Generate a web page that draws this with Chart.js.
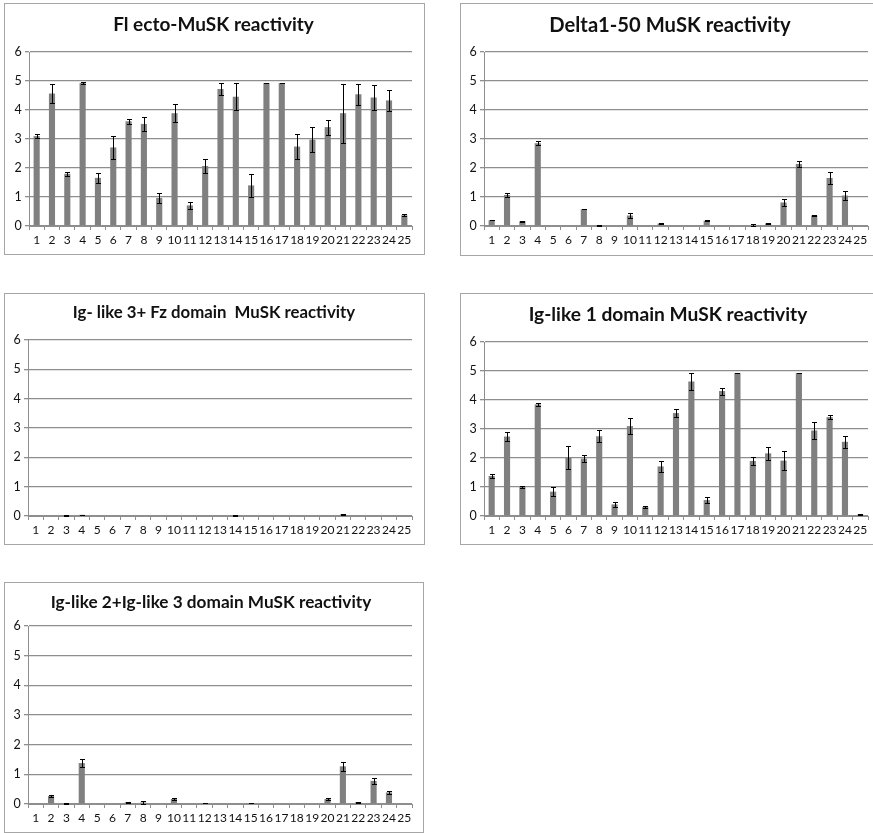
<!DOCTYPE html>
<html>
<head>
<meta charset="utf-8">
<script src="https://cdn.jsdelivr.net/npm/chart.js@4"></script>
<style>
  body { margin: 0; background: #fff; width: 873px; height: 833px; overflow: hidden; position: relative; }
  .panel { position: absolute; border: 1px solid #a6a6a6; box-sizing: border-box; background: #fff; }
  .panel canvas { position: absolute; left: 0; top: 0; }
</style>
</head>
<body>
<div class="panel" id="p1" style="left:4px;top:3px;width:421px;height:252px"><canvas id="c1" width="419" height="250"></canvas></div>
<div class="panel" id="p2" style="left:460px;top:3px;width:422px;height:253px"><canvas id="c2" width="420" height="251"></canvas></div>
<div class="panel" id="p3" style="left:4px;top:293px;width:421px;height:252px"><canvas id="c3" width="419" height="250"></canvas></div>
<div class="panel" id="p4" style="left:460px;top:293px;width:422px;height:252px"><canvas id="c4" width="420" height="250"></canvas></div>
<div class="panel" id="p5" style="left:4px;top:582px;width:420px;height:251px"><canvas id="c5" width="418" height="249"></canvas></div>
<script>
const labels = Array.from({ length: 25 }, (_, i) => String(i + 1));
const yTicks = [0, 1, 2, 3, 4, 5, 6];

// Fl ecto-MuSK
const flMean = [3.10, 4.57, 1.80, 4.93, 1.66, 2.71, 3.61, 3.52, 0.97, 3.89, 0.71, 2.07, 4.72, 4.46, 1.40, 4.93, 4.93, 2.74, 2.98, 3.41, 3.89, 4.54, 4.43, 4.33, 0.37];
const flErr  = [0.06, 0.33, 0.06, 0.02, 0.17, 0.39, 0.08, 0.23, 0.17, 0.30, 0.11, 0.24, 0.20, 0.46, 0.39, 0.01, 0.01, 0.44, 0.43, 0.26, 1.02, 0.36, 0.42, 0.36, 0.04];

// Delta1-50
const deltaMean = [0.20, 1.07, 0.16, 2.86, 0, 0, 0.58, 0.02, 0, 0.36, 0, 0.09, 0, 0, 0.18, 0, 0, 0.03, 0.09, 0.81, 2.14, 0.36, 1.66, 1.05, 0];
const deltaErr  = [0.01, 0.06, 0.01, 0.07, 0, 0, 0.01, 0.01, 0, 0.08, 0, 0.01, 0, 0, 0.01, 0, 0, 0.05, 0.01, 0.13, 0.11, 0.01, 0.22, 0.15, 0];

// Ig-like 3 + Fz
const fzMean = [0, 0, 0.02, 0.04, 0, 0, 0, 0, 0, 0, 0, 0, 0, 0.02, 0, 0, 0, 0, 0, 0, 0.05, 0, 0, 0, 0];
const fzErr  = [0, 0, 0.005, 0.005, 0, 0, 0, 0, 0, 0, 0, 0, 0, 0.005, 0, 0, 0, 0, 0, 0, 0.005, 0, 0, 0, 0];

// Ig-like 1
const ig1Mean = [1.38, 2.74, 1.00, 3.85, 0.84, 2.01, 1.98, 2.75, 0.40, 3.10, 0.31, 1.71, 3.55, 4.64, 0.55, 4.31, 4.93, 1.90, 2.16, 1.91, 4.93, 2.95, 3.41, 2.56, 0.05];
const ig1Err  = [0.08, 0.17, 0.04, 0.04, 0.16, 0.40, 0.11, 0.21, 0.08, 0.27, 0.05, 0.18, 0.15, 0.29, 0.09, 0.12, 0.01, 0.14, 0.22, 0.33, 0.01, 0.29, 0.07, 0.21, 0.01];

// Ig-like 2 + Ig-like 3
const ig23Mean = [0, 0.27, 0.02, 1.38, 0, 0, 0.06, 0.05, 0, 0.17, 0, 0.03, 0, 0, 0.03, 0, 0, 0, 0, 0.17, 1.27, 0.06, 0.78, 0.39, 0];
const ig23Err  = [0, 0.04, 0.005, 0.14, 0, 0, 0.01, 0.06, 0, 0.03, 0, 0.005, 0, 0, 0.005, 0, 0, 0, 0, 0.03, 0.15, 0.01, 0.09, 0.05, 0];

const GRID = '#8e8e8e';
const BAR = '#808080';
const FONT = 'Lato, "Open Sans", sans-serif';

const errorBars = {
  id: 'errorBars',
  afterDatasetsDraw(chart, args, opts) {
    const errs = opts.values;
    if (!errs) return;
    const { ctx } = chart;
    const y = chart.scales.y;
    const vals = chart.data.datasets[0].data;
    const meta = chart.getDatasetMeta(0);
    ctx.save();
    ctx.strokeStyle = '#000';
    ctx.lineWidth = 1;
    meta.data.forEach((bar, i) => {
      const e = errs[i];
      if (!e) return;
      const top = Math.round(y.getPixelForValue(vals[i] + e)) + 0.5;
      const bot = Math.round(y.getPixelForValue(Math.max(vals[i] - e, 0))) + 0.5;
      const x = Math.round(bar.x) + 0.5;
      ctx.beginPath();
      ctx.moveTo(x, top); ctx.lineTo(x, bot);
      ctx.moveTo(x - 2.5, top); ctx.lineTo(x + 2.5, top);
      ctx.moveTo(x - 2.5, bot); ctx.lineTo(x + 2.5, bot);
      ctx.stroke();
    });
    ctx.restore();
  }
};

function makeChart(id, title, mean, err, o) {
  new Chart(document.getElementById(id), {
    type: 'bar',
    data: {
      labels: labels,
      datasets: [{ data: mean, backgroundColor: BAR, borderWidth: 0, barPercentage: 0.4, categoryPercentage: 1 }]
    },
    options: {
      responsive: false,
      animation: false,
      devicePixelRatio: 1,
      layout: { padding: { left: o.left, right: o.right, top: 0, bottom: 0 } },
      plugins: {
        legend: { display: false },
        tooltip: { enabled: false },
        title: {
          display: true, text: title, color: '#111',
          font: { family: FONT, size: o.titleSize, weight: 'bold' },
          padding: { top: o.titleTop, bottom: o.titleBottom }
        },
        errorBars: { values: err }
      },
      scales: {
        x: {
          offset: true,
          grid: { offset: true, drawOnChartArea: false, drawTicks: true, tickLength: 4, color: GRID, lineWidth: 1 },
          border: { color: GRID, width: 1 },
          ticks: { color: '#111', font: { family: FONT, size: 12 }, maxRotation: 0, autoSkip: false, padding: 3 },
          afterFit(s) { s.height = o.xh; }
        },
        y: {
          min: 0, max: 6,
          afterBuildTicks(s) { s.ticks = yTicks.map(v => ({ value: v })); },
          grid: { color: GRID, lineWidth: 1.3, tickLength: 4 },
          border: { color: GRID, width: 1 },
          // mirrored with a negative padding so the digits sit left of the axis without being clipped
          ticks: { color: '#111', font: { family: FONT, size: 12.5 }, mirror: true, padding: -14.5 },
          afterFit(s) { s.width = o.yw - o.left; }
        }
      }
    },
    plugins: [errorBars]
  });
}

makeChart('c1', 'Fl ecto-MuSK reactivity', flMean, flErr,
  { left: 10, right: 12, yw: 24, xh: 28, titleSize: 19, titleTop: 9.6, titleBottom: 15.6 });
makeChart('c2', 'Delta1-50 MuSK reactivity', deltaMean, deltaErr,
  { left: 11, right: 13, yw: 23, xh: 29, titleSize: 20.2, titleTop: 8.9, titleBottom: 15 });
makeChart('c3', 'Ig- like 3+ Fz domain  MuSK reactivity', fzMean, fzErr,
  { left: 11, right: 12, yw: 23, xh: 28, titleSize: 16.8, titleTop: 9, titleBottom: 16.8 });
makeChart('c4', 'Ig-like 1 domain MuSK reactivity', ig1Mean, ig1Err,
  { left: 7, right: 13, yw: 23, xh: 28, titleSize: 19.2, titleTop: 9.5, titleBottom: 15.5 });
makeChart('c5', 'Ig-like 2+Ig-like 3 domain MuSK reactivity', ig23Mean, ig23Err,
  { left: 5, right: 11, yw: 23, xh: 28, titleSize: 17.2, titleTop: 8.7, titleBottom: 13.7 });
</script>
</body>
</html>
